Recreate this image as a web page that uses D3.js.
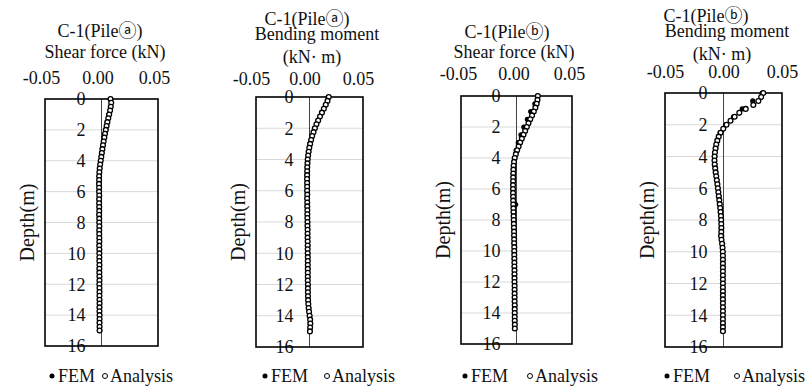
<!DOCTYPE html>
<html>
<head>
<meta charset="utf-8">
<script src="https://cdn.jsdelivr.net/npm/d3@7"></script>
<style>
  body { margin: 0; background: #fff; }
</style>
</head>
<body>
<script>
// depths of the analysis points (m)
const depths = [0, 0.25, 0.5, 0.75, 1, 1.25, 1.5, 1.75, 2, 2.25, 2.5, 2.75, 3, 3.25, 3.5, 3.75,
  4, 4.25, 4.5, 4.75, 5, 5.25, 5.5, 5.75, 6, 6.25, 6.5, 6.75, 7, 7.25, 7.5, 7.75,
  8, 8.25, 8.5, 8.75, 9, 9.25, 9.5, 9.75, 10, 10.25, 10.5, 10.75, 11, 11.25, 11.5, 11.75,
  12, 12.25, 12.5, 12.75, 13, 13.25, 13.5, 13.75, 14, 14.25, 14.5, 14.75, 15];
// depths of the FEM points (m)
const femDepths = [0, 0.5, 1, 1.5, 2, 2.5, 3, 3.5, 4, 4.5, 5, 5.5, 6, 6.5, 7, 7.5,
  8, 8.5, 9, 9.5, 10, 10.5, 11, 11.5, 12, 12.5, 13, 13.5, 14, 14.5, 15];

// pile a, shear force (kN)
const shearA = [0.0080, 0.0086, 0.0082, 0.0076, 0.0068, 0.0060, 0.0052, 0.0045, 0.0038, 0.0031,
  0.0025, 0.0019, 0.0013, 0.0008, 0.0003, -0.0002, -0.0007, -0.0012, -0.0016, -0.0019, -0.0021,
  -0.0021, -0.0022, -0.0021, -0.0021, -0.0020, -0.0021, -0.0021, -0.0020, -0.0020, -0.0021,
  -0.0020, -0.0020, -0.0019, -0.0020, -0.0020, -0.0019, -0.0019, -0.0020, -0.0019, -0.0019,
  -0.0019, -0.0019, -0.0018, -0.0019, -0.0019, -0.0018, -0.0018, -0.0019, -0.0018, -0.0018,
  -0.0018, -0.0018, -0.0017, -0.0018, -0.0018, -0.0017, -0.0017, -0.0018, -0.0017, -0.0017];
const shearAfem = [0.0078, 0.0080, 0.0066, 0.0050, 0.0036, 0.0023, 0.0012, 0.0002, -0.0008, -0.0016, -0.0020,
  -0.0021, -0.0021, -0.0020, -0.0020, -0.0020, -0.0019, -0.0019, -0.0019, -0.0018, -0.0018,
  -0.0018, -0.0018, -0.0018, -0.0017, -0.0017, -0.0017, -0.0017, -0.0017, -0.0016, -0.0016];

// pile a, bending moment (kN·m)
const momentA = [0.0180, 0.0168, 0.0152, 0.0134, 0.0116, 0.0098, 0.0081, 0.0065, 0.0050, 0.0037,
  0.0025, 0.0015, 0.0006, -0.0002, -0.0008, -0.0013, -0.0017, -0.0019, -0.0021, -0.0022, -0.0022,
  -0.0023, -0.0022, -0.0022, -0.0022, -0.0021, -0.0022, -0.0021, -0.0021, -0.0020, -0.0020,
  -0.0020, -0.0019, -0.0019, -0.0018, -0.0018, -0.0018, -0.0017, -0.0017, -0.0017, -0.0017,
  -0.0016, -0.0016, -0.0016, -0.0016, -0.0016, -0.0016, -0.0016, -0.0015, -0.0015, -0.0015,
  -0.0014, -0.0013, -0.0011, -0.0008, -0.0004, 0.0001, 0.0006, 0.0008, 0.0006, 0.0004];
const momentAfem = [0.0175, 0.0150, 0.0114, 0.0080, 0.0049, 0.0024, 0.0005, -0.0009, -0.0017, -0.0021, -0.0022,
  -0.0022, -0.0022, -0.0021, -0.0020, -0.0019, -0.0018, -0.0017, -0.0017, -0.0016, -0.0016,
  -0.0016, -0.0016, -0.0016, -0.0015, -0.0015, -0.0013, -0.0008, 0.0001, 0.0007, 0.0004];

// pile b, shear force (kN)
const shearB = [0.0192, 0.0189, 0.0182, 0.0170, 0.0156, 0.0140, 0.0124, 0.0108, 0.0093, 0.0078,
  0.0063, 0.0048, 0.0033, 0.0019, 0.0006, -0.0006, -0.0016, -0.0022, -0.0026, -0.0028, -0.0029,
  -0.0030, -0.0030, -0.0031, -0.0031, -0.0031, -0.0030, -0.0030, -0.0029, -0.0028, -0.0027,
  -0.0026, -0.0025, -0.0024, -0.0023, -0.0022, -0.0022, -0.0021, -0.0021, -0.0020, -0.0020,
  -0.0020, -0.0019, -0.0019, -0.0019, -0.0018, -0.0018, -0.0018, -0.0018, -0.0017, -0.0017,
  -0.0017, -0.0017, -0.0017, -0.0016, -0.0016, -0.0016, -0.0016, -0.0016, -0.0015, -0.0015];
const shearBfem = [0.0188, 0.0165, 0.0128, 0.0098, 0.0066, 0.0040, 0.0016, -0.0003, -0.0018, -0.0026, -0.0029,
  -0.0030, -0.0031, -0.0030, -0.0008, -0.0026, -0.0025, -0.0023, -0.0022, -0.0021, -0.0020,
  -0.0020, -0.0019, -0.0019, -0.0018, -0.0018, -0.0018, -0.0017, -0.0017, -0.0016, -0.0016];

// pile b, bending moment (kN·m)
const momentB = [0.0340, 0.0322, 0.0298, 0.0255, 0.0190, 0.0135, 0.0095, 0.0060, 0.0026, -0.0002,
  -0.0025, -0.0041, -0.0053, -0.0062, -0.0068, -0.0073, -0.0076, -0.0077, -0.0075, -0.0071, -0.0067,
  -0.0062, -0.0057, -0.0052, -0.0048, -0.0044, -0.0040, -0.0036, -0.0032, -0.0028, -0.0025,
  -0.0022, -0.0020, -0.0019, -0.0018, -0.0019, -0.0021, -0.0017, -0.0012, -0.0008, -0.0006,
  -0.0005, -0.0005, -0.0005, -0.0005, -0.0005, -0.0005, -0.0005, -0.0005, -0.0005, -0.0005,
  -0.0005, -0.0005, -0.0005, -0.0005, -0.0005, -0.0005, -0.0005, -0.0005, -0.0005, -0.0005];
const momentBfem = [0.0330, 0.0250, 0.0160, 0.0085, 0.0018, -0.0028, -0.0052, -0.0067, -0.0075, -0.0075, -0.0067,
  -0.0058, -0.0049, -0.0041, -0.0033, -0.0026, -0.0021, -0.0019, -0.0015, -0.0008, -0.0006,
  -0.0005, -0.0005, -0.0005, -0.0005, -0.0005, -0.0005, -0.0005, -0.0005, -0.0005, -0.0005];

const xTicks = [-0.05, 0, 0.05];
const yTicks = [0, 2, 4, 6, 8, 10, 12, 14, 16];
const titles = [
  ['C-1(Pileⓐ)', 'Shear force (kN)'],
  ['C-1(Pileⓐ)', 'Bending moment', '(kN· m)'],
  ['C-1(Pileⓑ)', 'Shear force (kN)'],
  ['C-1(Pileⓑ)', 'Bending moment', '(kN· m)']
];
const analysisSeries = [shearA, momentA, shearB, momentB];
const femSeries = [shearAfem, momentAfem, shearBfem, momentBfem];

// where each panel sits in the picture
const layout = [
  {x0: 45, x1: 158, y0: 99, y1: 346, tx: [100, 105], ty: [37, 58], tickY: 84, shift: -4, dot: 52, ring: 105},
  {x0: 256, x1: 363, y0: 97, y1: 347, tx: [307, 317, 312], ty: [25, 40, 63], tickY: 85, shift: -5, dot: 265, ring: 327},
  {x0: 461, x1: 572, y0: 96, y1: 344, tx: [507, 514], ty: [38, 58], tickY: 80, shift: -3, dot: 465, ring: 530},
  {x0: 665, x1: 782, y0: 93, y1: 347, tx: [706, 727, 722], ty: [22, 37, 60], tickY: 78, shift: 0, dot: 667, ring: 737}
];

const width = 807, height = 390;
const font = '"Liberation Serif", "Times New Roman", "Noto Sans CJK JP", serif';
const legendY = 376;

const svg = d3.select('body').append('svg')
  .attr('width', width)
  .attr('height', height)
  .style('font-family', font);

layout.forEach((L, p) => {
  const x = d3.scaleLinear().domain([-0.05, 0.05]).range([L.x0, L.x1]);
  const y = d3.scaleLinear().domain([0, 16]).range([L.y0, L.y1]);
  const g = svg.append('g').classed('panel', true);

  // titles
  titles[p].forEach((t, i) => {
    g.append('text')
      .attr('x', L.tx[i])
      .attr('y', L.ty[i])
      .attr('text-anchor', 'middle')
      .style('font-size', '18px')
      .attr('fill', '#111')
      .text(t);
  });

  // gridlines
  g.append('g').selectAll('line')
    .data(yTicks.filter(d => d > 0 && d < 16))
    .join('line')
    .attr('x1', L.x0).attr('x2', L.x1)
    .attr('y1', d => y(d)).attr('y2', d => y(d))
    .attr('stroke', '#d9d9d9')
    .attr('stroke-width', 1);

  // zero line
  g.append('line')
    .attr('x1', x(0)).attr('x2', x(0))
    .attr('y1', L.y0).attr('y2', L.y1)
    .attr('stroke', '#444')
    .attr('stroke-width', 1);

  // x tick labels above the box
  const xAxis = d3.axisTop(x).tickValues(xTicks).tickSize(0).tickPadding(0);
  const xg = g.append('g')
    .attr('transform', `translate(${L.shift},${L.tickY})`)
    .call(xAxis);
  xg.select('.domain').remove();
  xg.selectAll('text')
    .attr('font-family', font)
    .style('font-size', '18px')
    .attr('fill', '#111')
    .text(d => d3.format('.2f')(d).replace('−', '-'));

  // y tick labels next to zero line
  const yAxis = d3.axisLeft(y).tickValues(yTicks).tickSize(0).tickPadding(16);
  const yg = g.append('g')
    .attr('transform', `translate(${x(0)},0)`)
    .call(yAxis);
  yg.select('.domain').remove();
  yg.selectAll('text')
    .attr('font-family', font)
    .style('font-size', '18px')
    .attr('fill', '#111');

  // box
  g.append('rect')
    .attr('x', L.x0).attr('y', L.y0)
    .attr('width', L.x1 - L.x0).attr('height', L.y1 - L.y0)
    .attr('fill', 'none')
    .attr('stroke', '#000')
    .attr('stroke-width', 1.6);

  // axis title
  g.append('text')
    .attr('transform', `translate(${L.x0 - 18},${(L.y0 + L.y1) / 2}) rotate(-90)`)
    .attr('text-anchor', 'middle')
    .attr('dy', '0.35em')
    .style('font-size', '20px')
    .attr('fill', '#111')
    .text('Depth(m)');

  // FEM points
  g.append('g').selectAll('circle')
    .data(femSeries[p].map((v, i) => [v, femDepths[i]]))
    .join('circle')
    .attr('cx', d => x(d[0]))
    .attr('cy', d => y(d[1]))
    .attr('r', 2.6)
    .attr('fill', '#000');

  // analysis points
  g.append('g').selectAll('circle')
    .data(analysisSeries[p].map((v, i) => [v, depths[i]]))
    .join('circle')
    .attr('cx', d => x(d[0]))
    .attr('cy', d => y(d[1]))
    .attr('r', 2.4)
    .attr('fill', '#fff')
    .attr('stroke', '#000')
    .attr('stroke-width', 1.3);

  // legend
  const lg = g.append('g').classed('legend', true);
  lg.append('circle').attr('cx', L.dot).attr('cy', legendY).attr('r', 2.5).attr('fill', '#000');
  lg.append('text').attr('x', L.dot + 6).attr('y', legendY + 6)
    .style('font-size', '18px').attr('fill', '#111').text('FEM');
  lg.append('circle').attr('cx', L.ring).attr('cy', legendY).attr('r', 2.5)
    .attr('fill', '#fff').attr('stroke', '#000').attr('stroke-width', 1);
  lg.append('text').attr('x', L.ring + 5).attr('y', legendY + 6)
    .style('font-size', '18px').attr('fill', '#111').text('Analysis');
});
</script>
</body>
</html>
